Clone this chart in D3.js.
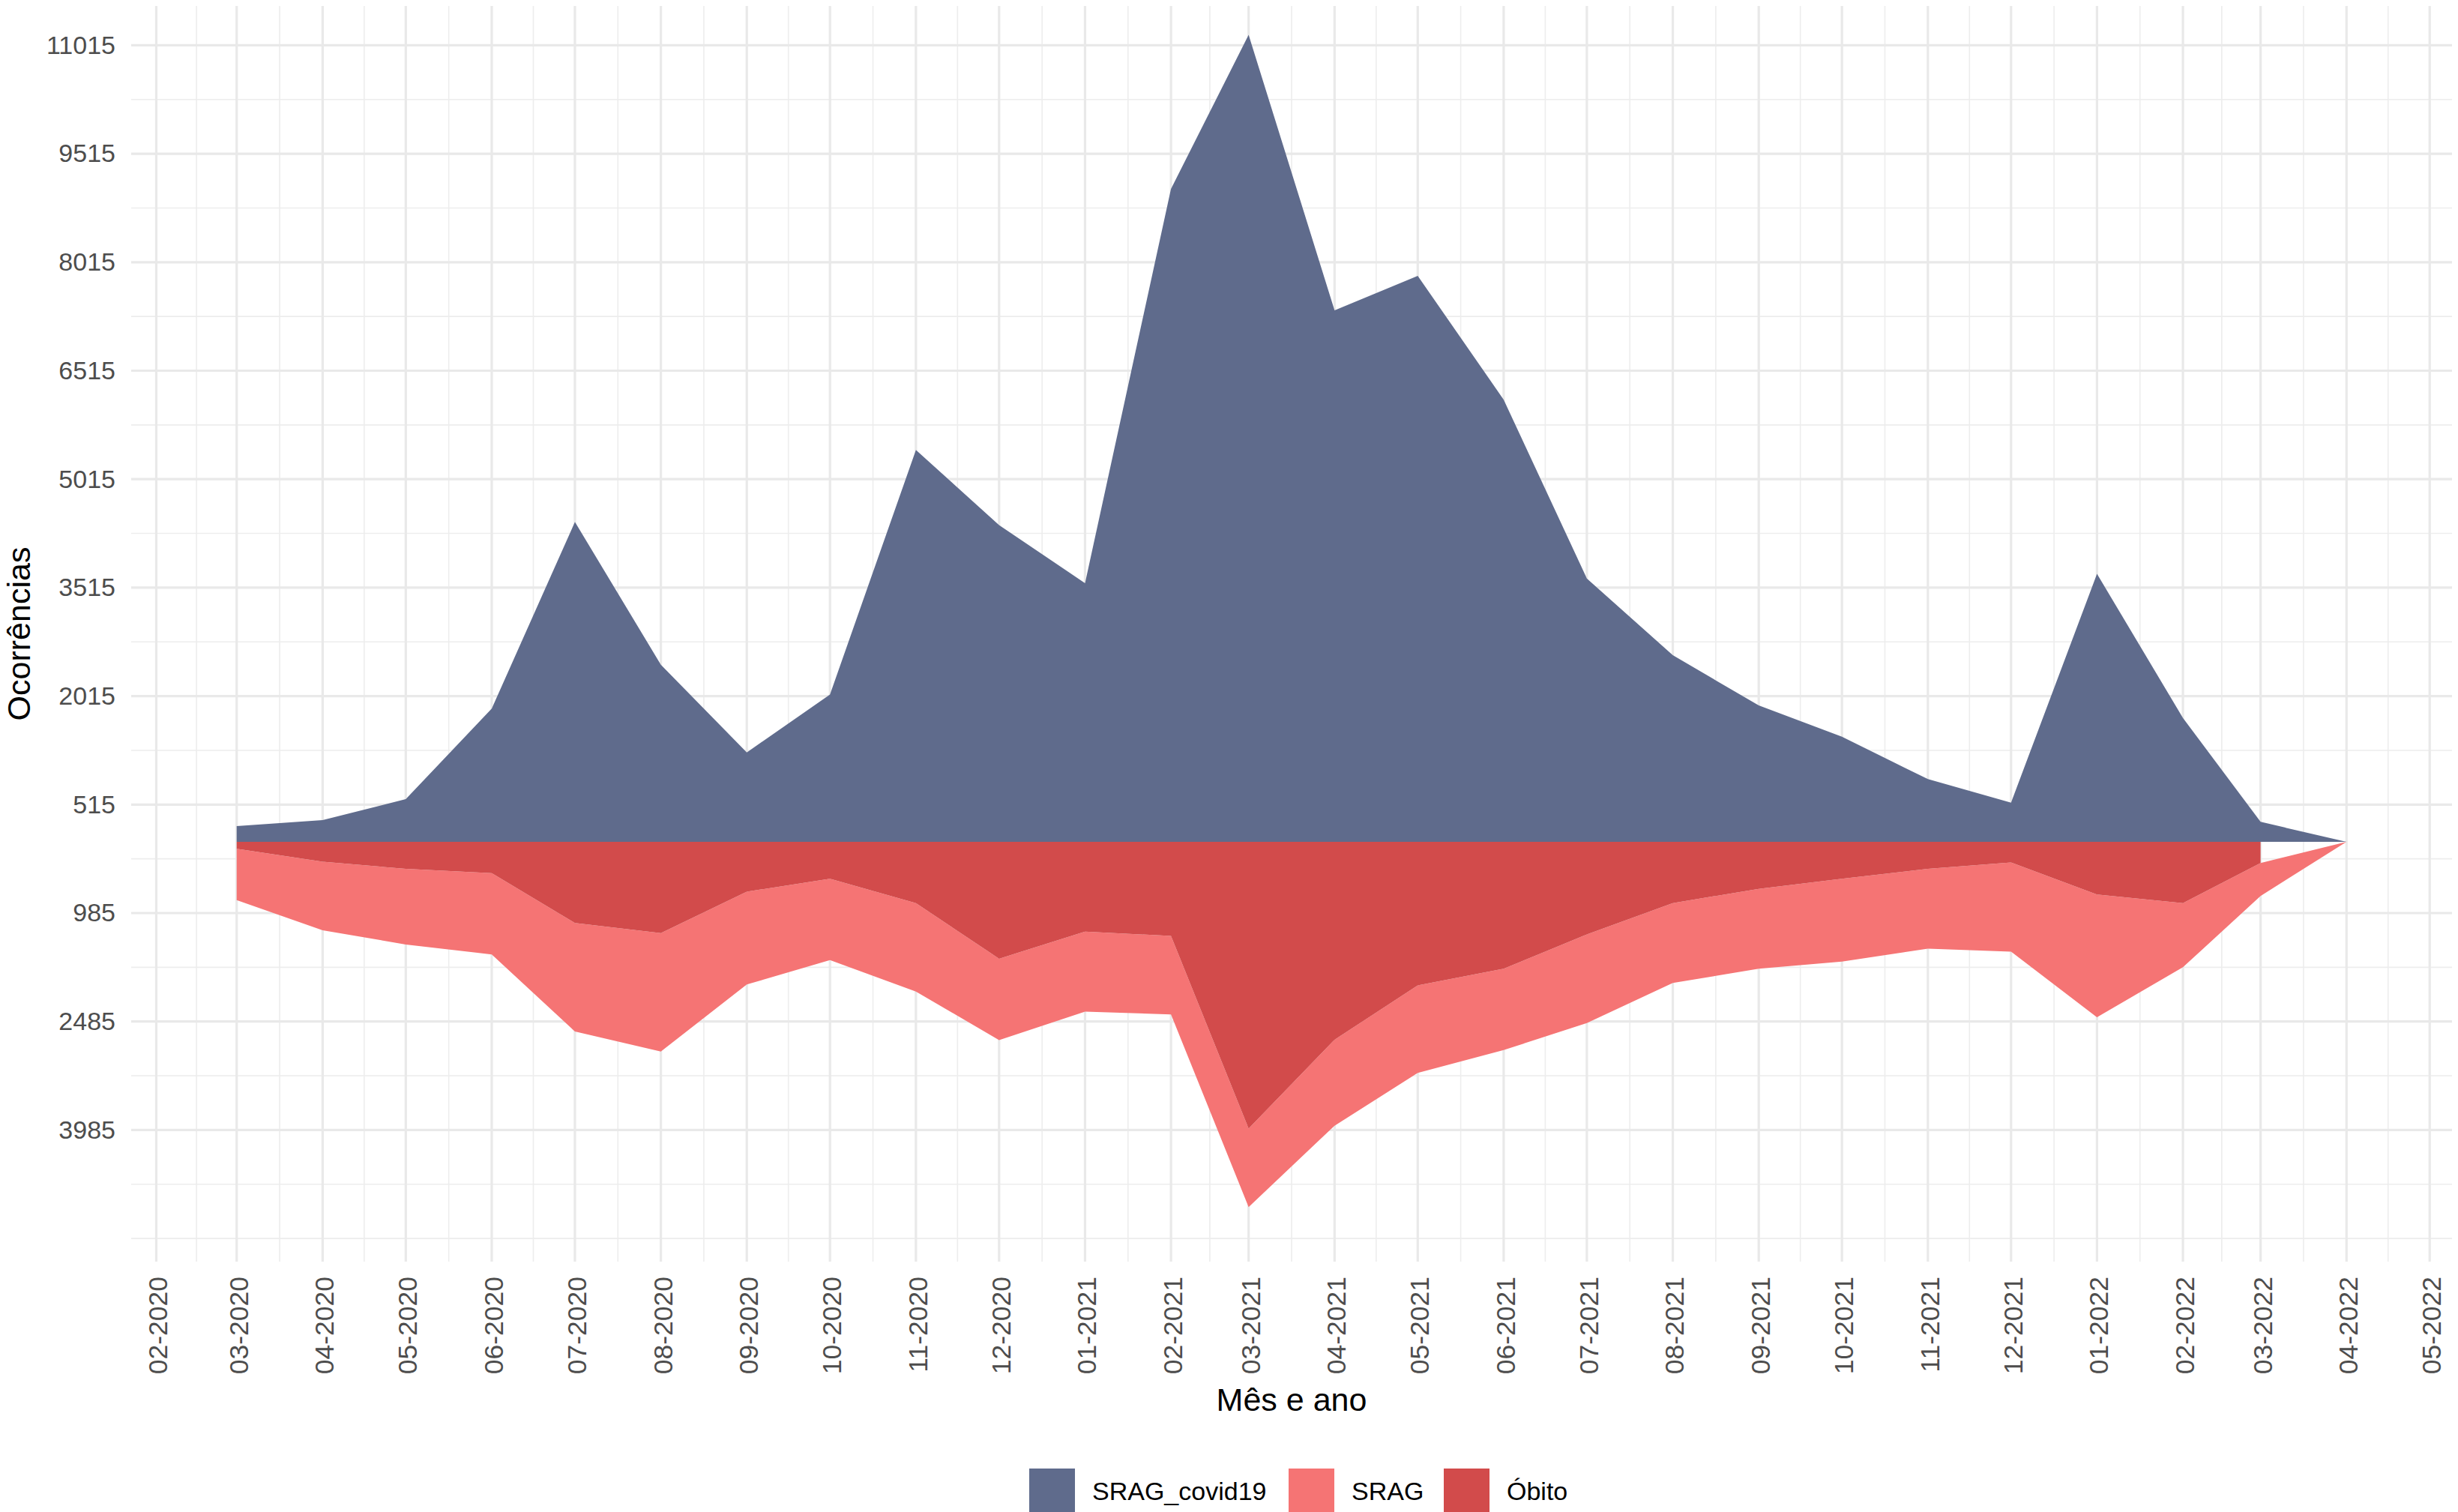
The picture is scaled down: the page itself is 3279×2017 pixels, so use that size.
<!DOCTYPE html>
<html>
<head>
<meta charset="utf-8">
<script src="https://cdn.jsdelivr.net/npm/d3@7"></script>
<style>
  body { margin: 0; background: #fff; }
  text { font-family: "Liberation Sans", Arial, Helvetica, sans-serif; }
</style>
</head>
<body>
<div id="vis"><svg></svg></div>
<script>

// months with data (first day of each month)
const months = ["2020-03","2020-04","2020-05","2020-06","2020-07","2020-08","2020-09","2020-10","2020-11","2020-12",
  "2021-01","2021-02","2021-03","2021-04","2021-05","2021-06","2021-07","2021-08","2021-09","2021-10","2021-11","2021-12",
  "2022-01","2022-02","2022-03","2022-04"];

// SRAG_covid19 (drawn above zero)
const sragCovid = [217, 300, 590, 1843, 4423, 2450, 1236, 2038, 5420, 4379,
  3577, 9030, 11160, 7350, 7826, 6114, 3642, 2580, 1886, 1453, 867, 542,
  3707, 1713, 276, 0];

// Obito (below zero, no value for 04-2022)
const obito = [97, 275, 373, 432, 1123, 1261, 689, 511, 847, 1616,
  1242, 1301, 3965, 2737, 1986, 1755, 1281, 847, 650, 511, 373, 285,
  728, 847, 294];

// SRAG (below zero, stacked under obito)
const srag = [710, 947, 1046, 1125, 1500, 1638, 1283, 1125, 1223, 1125,
  1105, 1085, 1085, 1188, 1209, 1125, 1224, 1105, 1105, 1145, 1105, 1233,
  1698, 888, 454, 0];

const yBreaks = [11015, 9515, 8015, 6515, 5015, 3515, 2015, 515, -985, -2485, -3985];
const legendNames = ["SRAG_covid19", "SRAG", "Óbito"];
const legendColors = ["#5f6b8c", "#f57474", "#d24b4b"];

var W = 3279, H = 2017;
var panel = {left: 175, right: 3271, top: 8, bottom: 1683};

var svg = d3.select("#vis").select("svg")
  .attr("width", W)
  .attr("height", H);

svg.append("rect").attr("width", W).attr("height", H).attr("fill", "#fff");

const parseMonth = d3.timeParse("%Y-%m");
const dates = months.map(parseMonth);

// 5% expansion on the date range, like ggplot
const span = dates[dates.length - 1] - dates[0];
const xScale = d3.scaleTime()
  .domain([new Date(+dates[0] - span * 0.05), new Date(+dates[dates.length - 1] + span * 0.05)])
  .range([panel.left, panel.right]);

const yScale = d3.scaleLinear()
  .domain([-5805, 11558])
  .range([panel.bottom, panel.top]);

// grid ---------------------------------------------------------------
const grid = svg.append("g");
const step = yBreaks[0] - yBreaks[1];
let yMinor = [];
for (let v = yBreaks[yBreaks.length - 1] - step; v <= yBreaks[0] + step; v += step / 2) {
  if (v >= yScale.domain()[0] && v <= yScale.domain()[1]) yMinor.push(v);
}
const xMajor = d3.timeMonth.range(d3.timeMonth.ceil(xScale.domain()[0]), xScale.domain()[1]);
const xMinor = d3.pairs(xMajor).map(p => new Date((+p[0] + +p[1]) / 2));

grid.selectAll(".ymin").data(yMinor).join("line")
  .attr("x1", panel.left).attr("x2", panel.right)
  .attr("y1", d => yScale(d)).attr("y2", d => yScale(d))
  .attr("stroke", "#ededed").attr("stroke-width", 1.6);
grid.selectAll(".xmin").data(xMinor).join("line")
  .attr("y1", panel.top).attr("y2", panel.bottom)
  .attr("x1", d => xScale(d)).attr("x2", d => xScale(d))
  .attr("stroke", "#ededed").attr("stroke-width", 1.6);
grid.selectAll(".ymaj").data(yBreaks).join("line")
  .attr("x1", panel.left).attr("x2", panel.right)
  .attr("y1", d => yScale(d)).attr("y2", d => yScale(d))
  .attr("stroke", "#e9e9e9").attr("stroke-width", 3.2);
grid.selectAll(".xmaj").data(xMajor).join("line")
  .attr("y1", panel.top).attr("y2", panel.bottom)
  .attr("x1", d => xScale(d)).attr("x2", d => xScale(d))
  .attr("stroke", "#e9e9e9").attr("stroke-width", 3.2);

// areas --------------------------------------------------------------
const covidArea = d3.area()
  .x((d, i) => xScale(dates[i]))
  .y0(yScale(0))
  .y1(d => yScale(d));

const sragArea = d3.area()
  .x((d, i) => xScale(dates[i]))
  .y0((d, i) => yScale(-(obito[i] || 0)))
  .y1((d, i) => yScale(-(obito[i] || 0) - d));

const obitoArea = d3.area()
  .x((d, i) => xScale(dates[i]))
  .y0(yScale(0))
  .y1(d => yScale(-d));

svg.append("path").datum(sragCovid).attr("d", covidArea).attr("fill", legendColors[0]);
svg.append("path").datum(srag).attr("d", sragArea).attr("fill", legendColors[1]);
svg.append("path").datum(obito).attr("d", obitoArea).attr("fill", legendColors[2]);

// axes ---------------------------------------------------------------
const yAxisG = svg.append("g")
  .attr("transform", `translate(${panel.left - 21},0)`)
  .call(d3.axisLeft(yScale).tickValues(yBreaks).tickSize(0).tickFormat(d => Math.abs(d)));
yAxisG.select(".domain").remove();
yAxisG.selectAll("text")
  .attr("x", 0)
  .attr("fill", "#4d4d4d")
  .attr("font-size", 34)
  .attr("font-family", "Liberation Sans, Arial, sans-serif");

const xAxisG = svg.append("g")
  .attr("transform", `translate(0,${panel.bottom + 20})`)
  .call(d3.axisBottom(xScale).tickValues(xMajor).tickSize(0).tickFormat(d3.timeFormat("%m-%Y")));
xAxisG.select(".domain").remove();
xAxisG.selectAll("text")
  .attr("transform", "rotate(-90)")
  .attr("x", 0).attr("y", 2).attr("dy", "0.35em")
  .attr("text-anchor", "end")
  .attr("fill", "#4d4d4d")
  .attr("font-size", 35.5)
  .attr("font-family", "Liberation Sans, Arial, sans-serif");

// axis titles
svg.append("text")
  .attr("transform", `translate(${(panel.left + panel.right) / 2},${1882})`)
  .attr("text-anchor", "middle")
  .attr("font-size", 43)
  .attr("fill", "#000")
  .text("Mês e ano");

svg.append("text")
  .attr("transform", `translate(${40},${(panel.top + panel.bottom) / 2}) rotate(-90)`)
  .attr("text-anchor", "middle")
  .attr("font-size", 43)
  .attr("fill", "#000")
  .text("Ocorrências");

// legend -------------------------------------------------------------
const legendX = [1373, 1719, 1926];
const leg = svg.append("g");
legendNames.forEach((name, i) => {
  leg.append("rect")
    .attr("x", legendX[i]).attr("y", 1959)
    .attr("width", 61).attr("height", 61)
    .attr("fill", legendColors[i]);
  leg.append("text")
    .attr("x", legendX[i] + 84).attr("y", 1989).attr("dy", "0.35em")
    .attr("font-size", 34)
    .attr("fill", "#000")
    .text(name);
});

</script>
</body>
</html>
